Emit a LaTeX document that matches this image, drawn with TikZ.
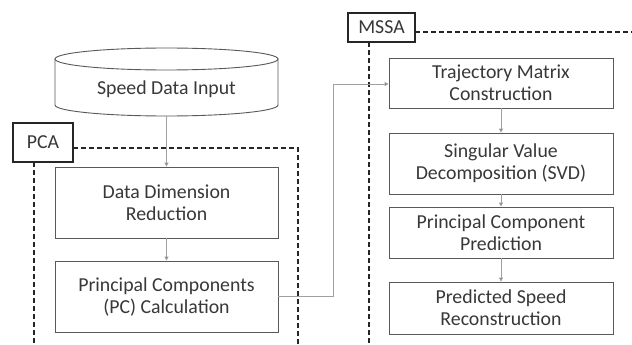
\documentclass[tikz,border=0pt]{standalone}
\usepackage{fontspec}
\setmainfont{Carlito}
\usetikzlibrary{arrows.meta}
\definecolor{txt}{HTML}{383838}
\definecolor{bord}{HTML}{595959}
\definecolor{conn}{HTML}{A0A0A0}
\begin{document}
\begin{tikzpicture}[x=1pt,y=-1pt,
  procbox/.style={draw=bord,line width=0.9pt,fill=white,text=txt,align=center,font=\fontsize{19.8}{22}\selectfont,inner sep=0pt},
  tagbox/.style={draw=black!85,line width=2.2pt,fill=white,text=txt,font=\fontsize{19.8}{22}\selectfont,inner sep=0pt},
  grpline/.style={draw=black!85,line width=1.3pt,dash pattern=on 5pt off 3pt},
  flow/.style={draw=conn,line width=0.9pt,-{Triangle[length=4pt,width=4pt,fill=black!80]}}]
\useasboundingbox (0,0) rectangle (632,345);
\fill[white] (0,0) rectangle (632,345);
% group boundaries
\draw[grpline] (73,148) -- (298,148) -- (298,345);
\draw[grpline] (34,162) -- (34,345);
\draw[grpline] (415,32) -- (632,32);
\draw[grpline] (369,42) -- (369,345);
% cylinder
\draw[draw=bord,line width=0.9pt,fill=white] (55,59) -- (55,105) arc[start angle=180,end angle=0,x radius=111.5,y radius=11] -- (278,59);
\draw[draw=bord,line width=0.9pt,fill=white] (166.5,59) ellipse[x radius=111.5,y radius=11];
\node[text=txt,font=\fontsize{19.8}{22}\selectfont] (inp) at (166.5,89) {Speed Data Input};
\coordinate (inpb) at (166.5,116);
% tags
\node[tagbox,minimum width=60pt,minimum height=39pt] (pca) at (43,142.5) {PCA};
\node[tagbox,minimum width=67pt,minimum height=29pt] (mssa) at (381.5,27.5) {MSSA};
% PCA boxes
\node[procbox,minimum width=223pt,minimum height=71pt] (ddr) at (166.5,202.5) {Data Dimension\\Reduction};
\node[procbox,minimum width=223pt,minimum height=71pt] (pcc) at (166.5,296.5) {Principal Components\\(PC) Calculation};
% MSSA boxes
\node[procbox,minimum width=224pt,minimum height=50pt] (tmc) at (501,83) {Trajectory Matrix\\Construction};
\node[procbox,minimum width=224pt,minimum height=61pt] (svd) at (501,163.5) {Singular Value\\Decomposition (SVD)};
\node[procbox,minimum width=224pt,minimum height=51pt] (pcp) at (501,232.5) {Principal Component\\Prediction};
\node[procbox,minimum width=224pt,minimum height=52pt] (psr) at (501,308) {Predicted Speed\\Reconstruction};
% connectors
\draw[flow] (inpb) -- (ddr.north);
\draw[flow] (ddr.south) -- (pcc.north);
\draw[flow] (pcc.east) -- (333,296.5) -- (333,84) -- (tmc.west |- 0,84);
\draw[flow] (tmc.south) -- (svd.north);
\draw[flow] (svd.south) -- (pcp.north);
\draw[flow] (pcp.south) -- (psr.north);
\end{tikzpicture}
\end{document}
